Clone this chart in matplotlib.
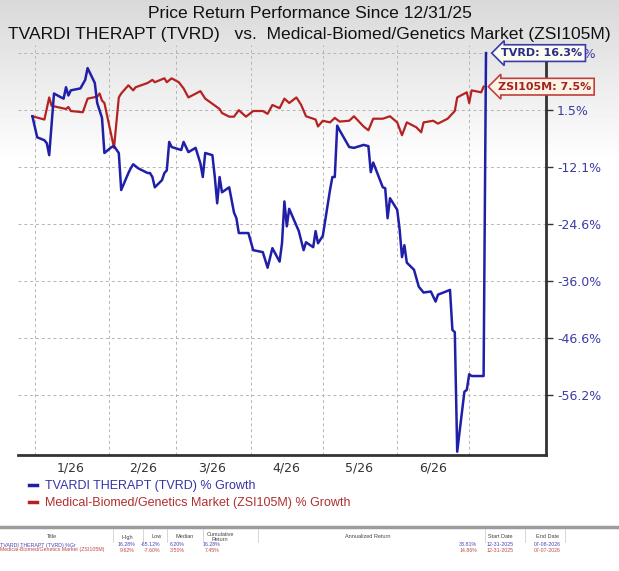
import numpy as np
import pandas as pd
import matplotlib
matplotlib.use("Agg")
import matplotlib.pyplot as plt
import matplotlib.dates as mdates
from matplotlib.lines import Line2D

# ---- data (percent growth since 12/31/25) ----
tvrd_dates = ["2025-12-31", "2026-01-02", "2026-01-05", "2026-01-06", "2026-01-07", "2026-01-09",
              "2026-01-12", "2026-01-13", "2026-01-14", "2026-01-15", "2026-01-16", "2026-01-20",
              "2026-01-22", "2026-01-23", "2026-01-26", "2026-01-27", "2026-01-29", "2026-01-30",
              "2026-02-02", "2026-02-03", "2026-02-05", "2026-02-06", "2026-02-09", "2026-02-10",
              "2026-02-11", "2026-02-13", "2026-02-17", "2026-02-18", "2026-02-19", "2026-02-20",
              "2026-02-23", "2026-02-24", "2026-02-25", "2026-02-26", "2026-02-27", "2026-03-03",
              "2026-03-04", "2026-03-06", "2026-03-09", "2026-03-11", "2026-03-12", "2026-03-13",
              "2026-03-16", "2026-03-17", "2026-03-18", "2026-03-19", "2026-03-20", "2026-03-23",
              "2026-03-25", "2026-03-26", "2026-03-27", "2026-03-31", "2026-04-02", "2026-04-06",
              "2026-04-08", "2026-04-10", "2026-04-13", "2026-04-14", "2026-04-15", "2026-04-16",
              "2026-04-17", "2026-04-21", "2026-04-23", "2026-04-24", "2026-04-27", "2026-04-28",
              "2026-04-29", "2026-05-01", "2026-05-04", "2026-05-05", "2026-05-06", "2026-05-07",
              "2026-05-08", "2026-05-12", "2026-05-14", "2026-05-18", "2026-05-20", "2026-05-21",
              "2026-05-22", "2026-05-26", "2026-05-27", "2026-05-28", "2026-05-29", "2026-06-01",
              "2026-06-02", "2026-06-03", "2026-06-04", "2026-06-05", "2026-06-08", "2026-06-10",
              "2026-06-12", "2026-06-15", "2026-06-17", "2026-06-18", "2026-06-23", "2026-06-24",
              "2026-06-25", "2026-06-26", "2026-06-29", "2026-06-30", "2026-07-01", "2026-07-02",
              "2026-07-07", "2026-07-08"]
tvrd_pct = [0.0, -5.1, -5.8, -6.5, -9.3, 5.7,
            4.7, 4.4, 7.3, 5.2, 6.5, 7.0,
            9.2, 12.3, 8.4, 3.3, -0.4, -8.8,
            -7.4, -7.2, -8.8, -17.2, -13.4, -12.3,
            -11.4, -12.3, -13.4, -13.4, -14.3, -16.6,
            -15.0, -13.4, -12.8, -6.2, -7.4, -8.1,
            -6.2, -8.6, -7.6, -11.2, -14.3, -8.8,
            -9.3, -14.3, -20.1, -14.3, -17.7, -16.6,
            -22.1, -23.3, -26.4, -26.4, -29.9, -30.3,
            -33.4, -29.5, -32.2, -28.5, -19.7, -25.0,
            -21.3, -26.0, -29.9, -28.3, -29.3, -26.0,
            -28.5, -27.0, -17.2, -14.3, -14.3, -2.3,
            -3.4, -7.4, -7.6, -6.9, -7.2, -13.2,
            -11.0, -16.6, -16.8, -23.3, -19.0, -21.5,
            -25.6, -31.3, -28.9, -32.4, -33.8, -37.1,
            -38.2, -38.0, -39.9, -38.6, -37.7, -45.1,
            -45.5, -65.1, -55.7, -55.4, -52.8, -53.1,
            -53.1, 16.3]

zsi_dates = ["2025-12-31", "2026-01-05", "2026-01-07", "2026-01-08", "2026-01-14", "2026-01-15",
             "2026-01-16", "2026-01-21", "2026-01-23", "2026-01-27", "2026-01-28", "2026-01-29",
             "2026-01-30", "2026-02-03", "2026-02-05", "2026-02-06", "2026-02-09", "2026-02-11",
             "2026-02-12", "2026-02-17", "2026-02-19", "2026-02-20", "2026-02-24", "2026-02-25",
             "2026-02-27", "2026-03-02", "2026-03-04", "2026-03-06", "2026-03-11", "2026-03-13",
             "2026-03-16", "2026-03-19", "2026-03-20", "2026-03-23", "2026-03-25", "2026-03-27",
             "2026-03-30", "2026-04-02", "2026-04-06", "2026-04-08", "2026-04-10", "2026-04-13",
             "2026-04-15", "2026-04-17", "2026-04-20", "2026-04-22", "2026-04-24", "2026-04-28",
             "2026-04-29", "2026-05-01", "2026-05-04", "2026-05-06", "2026-05-08", "2026-05-12",
             "2026-05-14", "2026-05-18", "2026-05-20", "2026-05-22", "2026-05-26", "2026-05-29",
             "2026-06-01", "2026-06-03", "2026-06-05", "2026-06-09", "2026-06-11", "2026-06-12",
             "2026-06-16", "2026-06-18", "2026-06-22", "2026-06-25", "2026-06-26", "2026-06-30",
             "2026-07-01", "2026-07-02", "2026-07-06", "2026-07-07"]
zsi_pct = [0.0, -0.8, 4.7, 2.6, 1.8, 2.3,
           1.3, 1.0, 4.4, 4.9, 5.7, 3.9,
           3.3, -7.6, 4.7, 5.7, 7.8, 6.5,
           7.3, 8.4, 9.2, 8.6, 9.62, 8.6,
           9.6, 8.6, 7.0, 4.7, 6.3, 4.4,
           3.1, 1.8, 0.8, -0.1, -0.1, 1.5,
           -0.1, 1.3, 1.3, 0.6, 2.8, 2.0,
           4.4, 3.3, 4.7, 2.8, 0.0, -0.8,
           -2.5, -1.1, -1.5, -0.4, -1.3, -1.1,
           0.0, -2.5, -3.4, -0.6, -0.6, 0.0,
           -1.5, -4.6, -1.5, -2.7, -3.9, -1.5,
           -1.1, -1.8, -0.6, 1.3, 4.7, 6.0,
           3.3, 6.5, 6.0, 7.45]

y_ticks = [16.2, 1.5, -12.1, -24.6, -36.0, -46.6, -56.2]
month_starts = ["2026-01-01", "2026-02-01", "2026-03-01", "2026-04-01", "2026-05-01", "2026-06-01", "2026-07-01"]
month_mids = ["2026-01-16", "2026-02-15", "2026-03-16", "2026-04-16", "2026-05-16", "2026-06-16"]
month_labels = ["1/26", "2/26", "3/26", "4/26", "5/26", "6/26"]

tvrd_name = "TVARDI THERAPT (TVRD) % Growth"
zsi_name = "Medical-Biomed/Genetics Market (ZSI105M) % Growth"

table_cols = ["Title", "High", "Low", "Median", "Cumulative\nReturn", "Annualized Return", "Start Date", "End Date"]
table_row1 = ["TVARDI THERAPT (TVRD) %Gr", "16.28%", "-65.12%", "6.20%", "16.28%", "33.81%", "12-31-2025", "07-08-2026"]
table_row2 = ["Medical-Biomed/Genetics Market (ZSI105M)", "9.62%", "-7.60%", "3.50%", "7.45%", "14.86%", "12-31-2025", "07-07-2026"]

BLUE = "#1f1fa8"
RED = "#b52222"
TICK_BLUE = "#3b3ba6"

W, H = 619, 571
fig = plt.figure(figsize=(W / 100, H / 100), dpi=100)

# grey-to-white background
bg = fig.add_axes([0, 0, 1, 1], zorder=-5)
grad = np.clip(0.85 + 0.15 * np.linspace(0, 1, 300) / 0.55, 0, 1)
grad = np.concatenate([grad, np.ones(271)])
bg.imshow(grad[:, None], cmap="gray", vmin=0, vmax=1, aspect="auto", extent=(0, 1, 0, 1))
bg.axis("off")


def fx(px):
    return px / W


def fy(py):
    return 1 - py / H


ax = fig.add_axes([fx(18), fy(455), fx(546) - fx(18), fy(45) - fy(455)])
ax.set_facecolor("none")

# the right axis is spaced on log(value + 166.6)
def fwd(v):
    return np.log(np.maximum(np.asarray(v) + 166.6, 1e-6))


def inv(y):
    return np.exp(y) - 166.6


ax.set_yscale("function", functions=(fwd, inv))

tx = pd.to_datetime(tvrd_dates)
zx = pd.to_datetime(zsi_dates)
l1, = ax.plot(tx, tvrd_pct, color=BLUE, lw=1.8, label=tvrd_name, zorder=4)
l2, = ax.plot(zx, zsi_pct, color=RED, lw=1.6, label=zsi_name, zorder=3)

ax.set_xlim(pd.Timestamp("2025-12-25"), pd.Timestamp("2026-08-02"))
ax.set_ylim(-65.6, 18.5)

ax.yaxis.tick_right()
ax.set_yticks(y_ticks)
ax.set_yticklabels([f"{v:.1f}%" for v in y_ticks])
ax.yaxis.set_minor_locator(matplotlib.ticker.NullLocator())
ax.tick_params(axis="y", which="major", length=5, width=1, color="#333333",
               labelcolor=TICK_BLUE, labelsize=9, pad=3)

ax.set_xticks(pd.to_datetime(month_starts))
ax.set_xticklabels([])
ax.set_xticks(pd.to_datetime(month_mids), minor=True)
ax.set_xticklabels(month_labels, minor=True)
ax.tick_params(axis="x", which="both", length=0, labelsize=9, labelcolor="#333333", pad=5)

ax.grid(True, axis="both", which="major", color="#b5b5b5", lw=0.7, ls=(0, (3, 3)))
for s in ["left", "top"]:
    ax.spines[s].set_visible(False)
for s in ["bottom", "right"]:
    ax.spines[s].set_color("#333333")
    ax.spines[s].set_linewidth(2)

# end-of-line value tags
ax.annotate(f"TVRD: {tvrd_pct[-1]:.1f}%", xy=(tx[-1], tvrd_pct[-1]), xytext=(15, 0),
            textcoords="offset pixels", ha="left", va="center", fontsize=8, fontweight="bold",
            color="#2b2b8c", annotation_clip=False, zorder=10,
            bbox=dict(boxstyle="larrow,pad=0.3", fc="#fbfbef", ec="#3a3aa8", lw=1.2))
ax.annotate(f"ZSI105M: {zsi_pct[-1]:.1f}%", xy=(zx[-1], zsi_pct[-1]), xytext=(14, 0),
            textcoords="offset pixels", ha="left", va="center", fontsize=8, fontweight="bold",
            color="#a82020", annotation_clip=False, zorder=10,
            bbox=dict(boxstyle="larrow,pad=0.3", fc="#fbf4e6", ec="#c04040", lw=1.2))

# titles
fig.text(0.5, fy(13), "Price Return Performance Since 12/31/25", ha="center", va="center",
         fontsize=12.6, family="Liberation Sans", color="#111111")
fig.text(0.5, fy(35), "TVARDI THERAPT (TVRD)   vs.  Medical-Biomed/Genetics Market (ZSI105M)",
         ha="center", va="center", fontsize=12.6, family="Liberation Sans", color="#111111")

# legend
leg = fig.legend(handles=[l1, l2], loc="upper left", bbox_to_anchor=(fx(18), fy(469)),
                 frameon=False, handlelength=0.6, handletextpad=0.65, labelspacing=0.38,
                 prop={"family": "Liberation Sans", "size": 9})
for t, c in zip(leg.get_texts(), ["#3434a8", "#b03030"]):
    t.set_color(c)
for h in leg.legend_handles:
    h.set_linewidth(2.5)

# summary table under the chart
fig.add_artist(Line2D([0, 1], [fy(527), fy(527)], color="#9c9c9c", lw=2.5))
col_x = [52, 127, 157, 185, 220, 368, 500, 547]
for x, name in zip(col_x, table_cols):
    fig.text(fx(x), fy(537), name, ha="center", va="center", fontsize=4,
             family="Liberation Sans", color="#444444", linespacing=1.0)
for x in [113, 143, 167, 203, 258, 485, 525, 565]:
    fig.add_artist(Line2D([fx(x), fx(x)], [fy(529), fy(542)], color="#d0d0d0", lw=0.6))
val_x = [135, 160, 185, 220, 477]
for row, py, c in [(table_row1, 545, "#4646b8"), (table_row2, 550, "#c04848")]:
    fig.text(fx(0), fy(py), row[0], ha="left", va="center", fontsize=3.8,
             family="Liberation Sans", color=c)
    for x, v in zip(val_x, row[1:6]):
        fig.text(fx(x), fy(py), v, ha="right", va="center", fontsize=3.8,
                 family="Liberation Sans", color=c)
    for x, v in zip([500, 547], row[6:]):
        fig.text(fx(x), fy(py), v, ha="center", va="center", fontsize=3.8,
                 family="Liberation Sans", color=c)

fig.savefig("out.png", dpi=100)
